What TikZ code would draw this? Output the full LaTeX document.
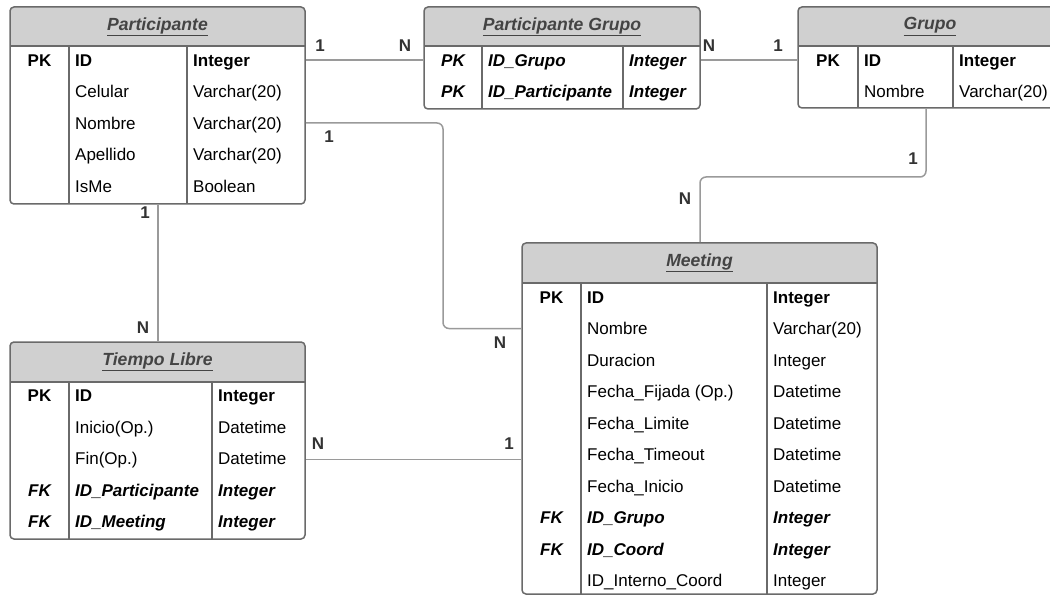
\documentclass[tikz,border=0pt]{standalone}
\usepackage{fontspec}
\setmainfont{Liberation Sans}
\usetikzlibrary{calc,fit}

\definecolor{headfill}{HTML}{D0D0D0}
\definecolor{framegray}{HTML}{6A6A6A}
\definecolor{linkgray}{HTML}{9A9A9A}
\definecolor{labelgray}{HTML}{333333}
\definecolor{titlegray}{HTML}{444444}

\newcommand\cellfont{\fontsize{17}{20}\selectfont}
\newcommand\headfont{\fontsize{17.6}{20}\selectfont}

\tikzset{
  frame/.style={draw=framegray, line width=1.5pt, rounded corners=4pt, inner sep=0pt},
  rule/.style={draw=framegray, line width=1.3pt},
  cell/.style={inner sep=0pt, font=\cellfont, text=black},
  keybold/.style={font=\cellfont\bfseries},
  keyfk/.style={font=\cellfont\bfseries\itshape},
  plain/.style={},
  title/.style={inner sep=0pt, font=\headfont\bfseries\itshape, text=titlegray},
  link/.style={draw=linkgray, line width=1.5pt, rounded corners=6pt},
  card/.style={inner sep=0pt, font=\cellfont\bfseries, text=labelgray},
}

% Entity box: name, x1, y1, x2, y2, header bottom, column 1 x, column 2 x, title
\newcommand\erbox[9]{%
  \begin{scope}
    \clip[rounded corners=4pt] (#2,#3) rectangle (#4,#5);
    \fill[headfill] (#2,#3) rectangle (#4,#6);
  \end{scope}
  \draw[rule] (#2,#6) -- (#4,#6);
  \draw[rule] (#7,#6) -- (#7,#5);
  \draw[rule] (#8,#6) -- (#8,#5);
  \coordinate (#1-nw) at (#2,#3);
  \coordinate (#1-se) at (#4,#5);
  \node[frame, fit=(#1-nw)(#1-se)] (#1) {};
  \coordinate (#1-kx) at ($(#2,0)!0.5!(#7,0)$);
  \coordinate (#1-fx) at (#7+6,0);
  \coordinate (#1-tx) at (#8+6,0);
  \node[title] (#1-title) at ($(#2,#3)!0.5!(#4,#6)$) {\underline{#9}};
}

% Table row: box, index, row centre y, key, field, type, style
\newcommand\errow[7]{%
  \coordinate (#1-r#2) at (0,#3);
  \coordinate (#1-b#2) at (0,#3+6.2);
  \if\relax\detokenize{#4}\relax\else
    \node[cell,#7,anchor=base] (#1-k#2) at (#1-kx |- #1-b#2) {#4};
  \fi
  \node[cell,#7,anchor=base west] (#1-f#2) at (#1-fx |- #1-b#2) {#5};
  \node[cell,#7,anchor=base west] (#1-t#2) at (#1-tx |- #1-b#2) {#6};
}

\begin{document}
\begin{tikzpicture}[x=1pt, y=-1pt]
\useasboundingbox (0,0) rectangle (1050,596);
\fill[white] (0,0) rectangle (1050,596);

% Participante
\erbox{P}{10}{7}{305}{204}{46}{69}{187}{Participante}
\errow{P}{1}{60}{PK}{ID}{Integer}{keybold}
\errow{P}{2}{91.5}{}{Celular}{Varchar(20)}{plain}
\errow{P}{3}{123}{}{Nombre}{Varchar(20)}{plain}
\errow{P}{4}{154.5}{}{Apellido}{Varchar(20)}{plain}
\errow{P}{5}{186}{}{IsMe}{Boolean}{plain}

% Participante Grupo
\erbox{PG}{424}{7}{700}{109}{46}{482}{623}{Participante Grupo}
\errow{PG}{1}{60}{PK}{ID\_Grupo}{Integer}{keyfk}
\errow{PG}{2}{91.5}{PK}{ID\_Participante}{Integer}{keyfk}

% Grupo
\erbox{G}{798}{7}{1062}{108}{46}{858}{953}{Grupo}
\errow{G}{1}{60}{PK}{ID}{Integer}{keybold}
\errow{G}{2}{91.5}{}{Nombre}{Varchar(20)}{plain}

% Tiempo Libre
\erbox{T}{10}{342}{305}{539}{382}{69}{212}{Tiempo Libre}
\errow{T}{1}{395.5}{PK}{ID}{Integer}{keybold}
\errow{T}{2}{427}{}{Inicio(Op.)}{Datetime}{plain}
\errow{T}{3}{458.5}{}{Fin(Op.)}{Datetime}{plain}
\errow{T}{4}{490}{FK}{ID\_Participante}{Integer}{keyfk}
\errow{T}{5}{521.5}{FK}{ID\_Meeting}{Integer}{keyfk}

% Meeting
\erbox{M}{522}{243}{877}{594}{283}{581}{767}{Meeting}
\errow{M}{1}{297}{PK}{ID}{Integer}{keybold}
\errow{M}{2}{328.5}{}{Nombre}{Varchar(20)}{plain}
\errow{M}{3}{360}{}{Duracion}{Integer}{plain}
\errow{M}{4}{391.5}{}{Fecha\_Fijada (Op.)}{Datetime}{plain}
\errow{M}{5}{423}{}{Fecha\_Limite}{Datetime}{plain}
\errow{M}{6}{454.5}{}{Fecha\_Timeout}{Datetime}{plain}
\errow{M}{7}{486}{}{Fecha\_Inicio}{Datetime}{plain}
\errow{M}{8}{517.5}{FK}{ID\_Grupo}{Integer}{keyfk}
\errow{M}{9}{549}{FK}{ID\_Coord}{Integer}{keyfk}
\errow{M}{10}{580.5}{}{ID\_Interno\_Coord}{Integer}{plain}

% Relationships
\coordinate (bendPM) at (443,0);
\coordinate (bendG) at (926,177);
\coordinate (bendM) at (700,177);
\coordinate (dropPT) at (158,0);
\coordinate (rowTM) at (0,459.5);

\draw[link] (P-r1 -| P.east) -- (PG-r1 -| PG.west);
\draw[link] (PG-r1 -| PG.east) -- (G-r1 -| G.west);
\draw[link] (P-r3 -| P.east) -| (bendPM |- M-r2) -- (M-r2 -| M.west);
\draw[link] (bendG |- G.south) |- (bendM) -- (bendM |- M.north);
\draw[link] (dropPT |- P.south) -- (dropPT |- T.north);
\draw[link] (rowTM -| T.east) -- (rowTM -| M.west);

% Cardinalities
\node[card] (c1) at (320,46) {1};
\node[card] (c2) at (405,46) {N};
\node[card] (c3) at (709,46) {N};
\node[card] (c4) at (778,46) {1};
\node[card] (c5) at (329,137) {1};
\node[card] (c6) at (500,343) {N};
\node[card] (c7) at (913,159) {1};
\node[card] (c8) at (685,199) {N};
\node[card] (c9) at (145,213) {1};
\node[card] (c10) at (143,328) {N};
\node[card] (c11) at (318,444) {N};
\node[card] (c12) at (509,444) {1};
\end{tikzpicture}
\end{document}
